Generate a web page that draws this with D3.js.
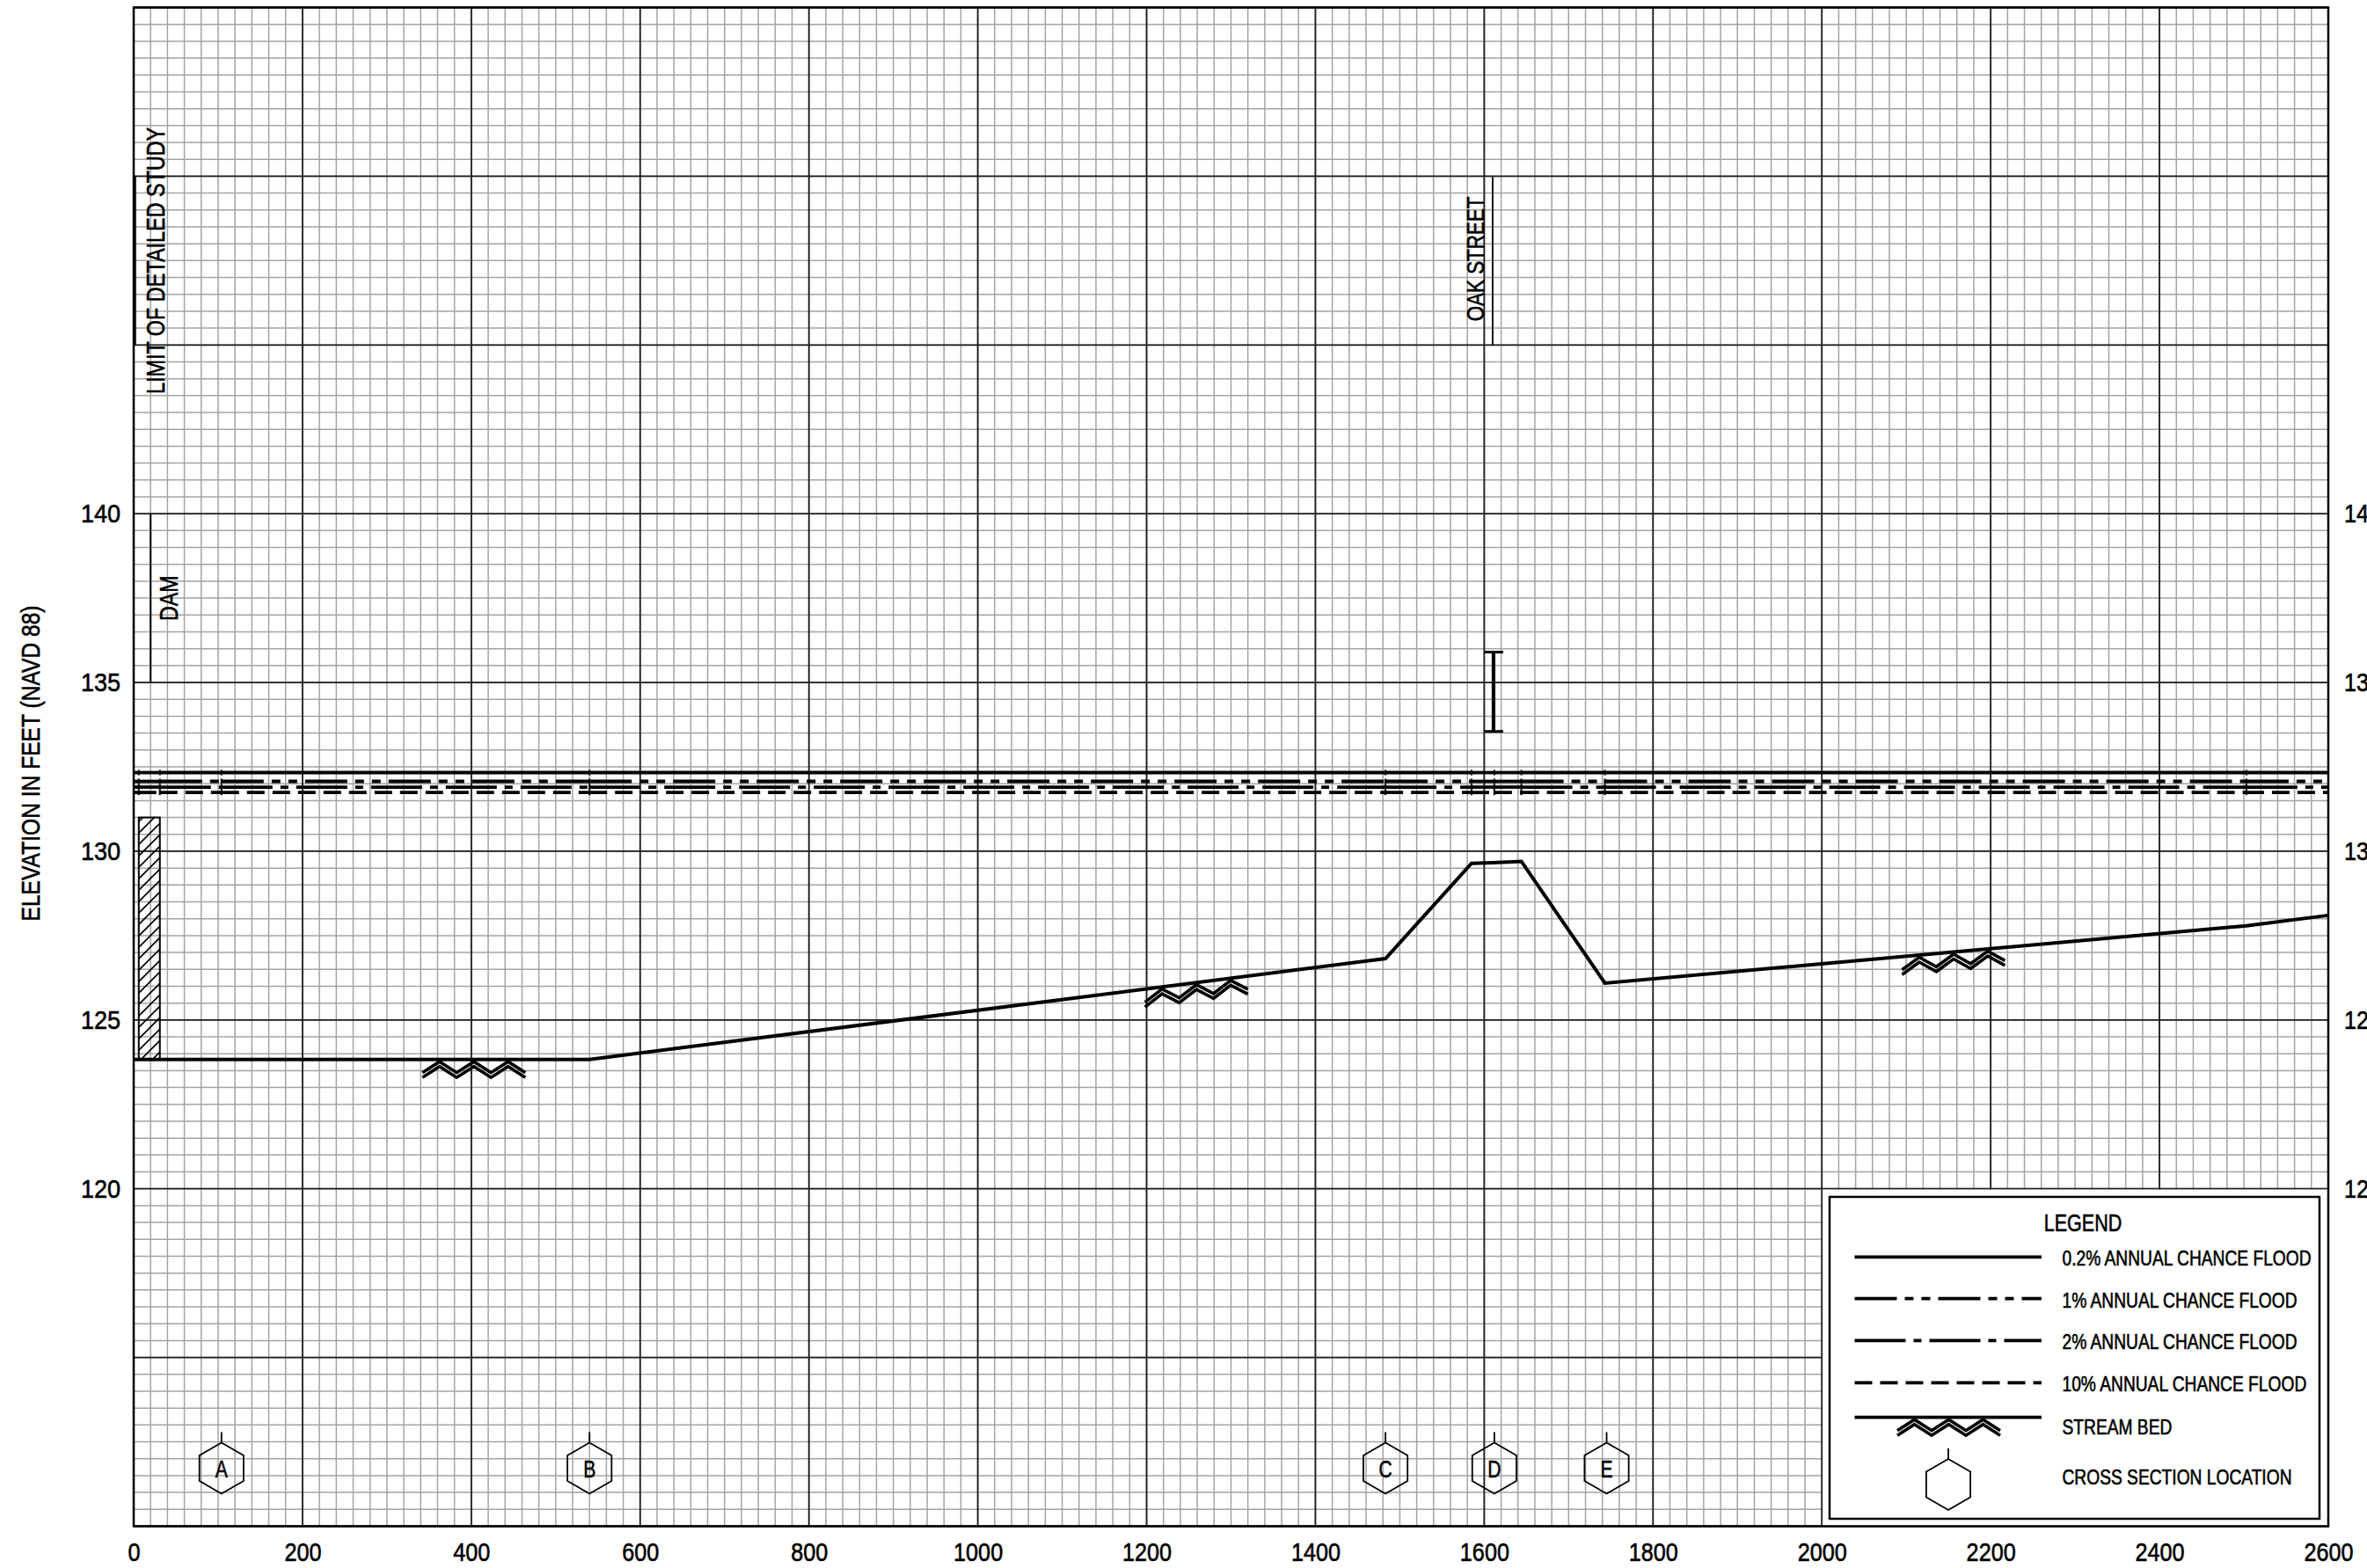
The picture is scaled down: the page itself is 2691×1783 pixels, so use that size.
<!DOCTYPE html>
<html>
<head>
<meta charset="utf-8">
<script src="https://cdn.jsdelivr.net/npm/d3@7"></script>
<style>
  body { margin: 0; background: #fff; }
  svg text { font-family: "Liberation Sans", Arial, sans-serif; fill: #000; stroke: #000; stroke-width: 0.6px; }
</style>
</head>
<body>
<div id="plot"></div>
<script>
const width = 2691;
const height = 1783;

// ----- DATA -----
const xTicks = [0, 200, 400, 600, 800, 1000, 1200, 1400, 1600, 1800, 2000, 2200, 2400, 2600];
const yTicks = [120, 125, 130, 135, 140];

// stream bed profile [station ft, elevation ft]
const streamBed = [
    [0, 123.83], [540, 123.83], [1483, 126.82], [1585, 129.64], [1610, 129.66],
    [1644, 129.70], [1743, 126.09], [2503, 127.79], [2600, 128.10]
];

// flood profiles are flat through the reach
const floodNames = ["0.2% ANNUAL CHANCE FLOOD", "1% ANNUAL CHANCE FLOOD", "2% ANNUAL CHANCE FLOOD", "10% ANNUAL CHANCE FLOOD"];
const floodElev = [132.33, 132.07, 131.90, 131.74];
const floodStations = [0, 6, 31, 104, 540, 1483, 1585, 1612, 1644, 1743, 2503, 2600];

const xsLetters = ["A", "B", "C", "D", "E"];
const xsStations = [104, 540, 1483, 1612, 1745];

const bedSymbolStations = [403, 1259, 2156];

const damFaces = [6, 31];
const damTop = 131.0;
const damLabelLine = [20, 135, 140];      // station, from, to
const limitLine = [0, 145, 150];
const oakLine = [1610, 145, 150];
const bridgeDeck = [1611, 133.55, 135.9]; // station, low chord, top of road

// ----- LAYOUT -----
const pLeft = 152, pRight = 2647, pTop = 8.5, pBottom = 1735.5;

const svg = d3.select("#plot").append("svg")
    .attr("width", width)
    .attr("height", height)
    .style("display", "block")
    .style("background", "#fff");

const x = d3.scaleLinear().domain([0, 2600]).range([pLeft, pRight]);
const y = d3.scaleLinear().domain([110, 155]).range([pBottom, pTop]);
const bedAt = d3.scaleLinear().domain(streamBed.map(d => d[0])).range(streamBed.map(d => d[1]));

const dashes = [null, "48,9,10,9,10,9", "58,9,9,9", "20,9"];

// no narrow font installed: squeeze each label to a condensed width
function condense(sel, f) {
    sel.each(function () {
        const w = this.getComputedTextLength();
        d3.select(this).attr("textLength", w * f).attr("lengthAdjust", "spacingAndGlyphs");
    });
}

// hatch for the dam
const defs = svg.append("defs");
defs.append("pattern")
    .attr("id", "hatch")
    .attr("patternUnits", "userSpaceOnUse")
    .attr("width", 13).attr("height", 13)
    .append("path")
    .attr("d", "M0,13 L13,0 M-2,2 L2,-2 M11,15 L15,11")
    .attr("stroke", "#000").attr("stroke-width", 1.6);

// ----- GRID -----
const grid = svg.append("g");
grid.selectAll(".vmin").data(d3.range(0, 2601, 20)).enter().append("line")
    .attr("x1", d => x(d)).attr("x2", d => x(d)).attr("y1", pTop).attr("y2", pBottom)
    .attr("stroke", "#a3a3a3").attr("stroke-width", 1.5);
grid.selectAll(".hmin").data(d3.range(110, 155.01, 0.5)).enter().append("line")
    .attr("y1", d => y(d)).attr("y2", d => y(d)).attr("x1", pLeft).attr("x2", pRight)
    .attr("stroke", "#a3a3a3").attr("stroke-width", 1.5);
grid.selectAll(".vmaj").data(d3.range(0, 2601, 200)).enter().append("line")
    .attr("x1", d => x(d)).attr("x2", d => x(d)).attr("y1", pTop).attr("y2", pBottom)
    .attr("stroke", "#1e1e1e").attr("stroke-width", 1.8);
grid.selectAll(".hmaj").data(d3.range(110, 155.01, 5)).enter().append("line")
    .attr("y1", d => y(d)).attr("y2", d => y(d)).attr("x1", pLeft).attr("x2", pRight)
    .attr("stroke", "#1e1e1e").attr("stroke-width", 1.8);

// legend block blanks out its grid cells
svg.append("rect")
    .attr("x", x(2000) + 1).attr("y", y(120) + 1)
    .attr("width", pRight - x(2000) - 1).attr("height", pBottom - y(120) - 1)
    .attr("fill", "#fff");

svg.append("rect")
    .attr("x", pLeft).attr("y", pTop).attr("width", pRight - pLeft).attr("height", pBottom - pTop)
    .attr("fill", "none").attr("stroke", "#000").attr("stroke-width", 2.5);

// ----- AXES -----
const fs = 30;
const xAxis = svg.append("g")
    .attr("transform", "translate(0," + pBottom + ")")
    .call(d3.axisBottom(x).tickValues(xTicks).tickSize(0).tickPadding(18).tickFormat(d3.format("d")));
const yAxisL = svg.append("g")
    .attr("transform", "translate(" + pLeft + ",0)")
    .call(d3.axisLeft(y).tickValues(yTicks).tickSize(0).tickPadding(15));
const yAxisR = svg.append("g")
    .attr("transform", "translate(" + pRight + ",0)")
    .call(d3.axisRight(y).tickValues(yTicks).tickSize(0).tickPadding(18));
[xAxis, yAxisL, yAxisR].forEach(a => {
    a.select(".domain").remove();
    a.attr("font-family", null).attr("font-size", null);
    a.selectAll("text").style("font-size", fs + "px");
});
xAxis.selectAll("text").call(condense, 0.84);
yAxisL.selectAll("text").call(condense, 0.9);
yAxisR.selectAll("text").call(condense, 0.84);

svg.append("text")
    .attr("transform", "translate(45,868) rotate(-90)")
    .attr("text-anchor", "middle")
    .style("font-size", "30px")
    .text("ELEVATION IN FEET (NAVD 88)")
    .call(condense, 0.82);

// ----- FLOOD PROFILES -----
const line = d3.line().x(d => x(d[0])).y(d => y(d[1]));
const floods = svg.append("g");
floodElev.forEach((e, i) => {
    const pts = floodStations.map(s => [s, e]);
    for (let k = 0; k < pts.length - 1; k++) {
        floods.append("path")
            .attr("d", line([pts[k], pts[k + 1]]))
            .attr("fill", "none").attr("stroke", "#000").attr("stroke-width", 3.8)
            .attr("stroke-dasharray", dashes[i]);
    }
    floodStations.slice(1, -1).forEach(s => {
        floods.append("line")
            .attr("x1", x(s)).attr("x2", x(s)).attr("y1", y(e) - 3).attr("y2", y(e) + 3)
            .attr("stroke", "#000").attr("stroke-width", 2.2);
    });
});

// ----- STREAM BED -----
svg.append("path")
    .attr("d", line(streamBed))
    .attr("fill", "none").attr("stroke", "#000").attr("stroke-width", 4)
    .attr("stroke-linejoin", "miter");

function bedSymbol(g, cx, lineY) {
    const w = 117, n = 3;
    [0, 5.5].forEach(off => {
        const pts = d3.range(0, 2 * n + 1).map(k => {
            const px = cx - w / 2 + k * w / (2 * n);
            return [px, lineY(px) + (k % 2 ? 2.5 : 15) + off];
        });
        g.append("path").attr("d", d3.line()(pts))
            .attr("fill", "none").attr("stroke", "#000").attr("stroke-width", 3.6);
    });
}
const bedG = svg.append("g");
bedSymbolStations.forEach(s => bedSymbol(bedG, x(s), px => y(bedAt(x.invert(px)))));

// ----- DAM -----
svg.append("rect")
    .attr("x", x(damFaces[0])).attr("y", y(damTop))
    .attr("width", x(damFaces[1]) - x(damFaces[0])).attr("height", y(streamBed[0][1]) - y(damTop))
    .attr("fill", "url(#hatch)").attr("stroke", "#000").attr("stroke-width", 2);
svg.append("line")
    .attr("x1", x(damLabelLine[0])).attr("x2", x(damLabelLine[0]))
    .attr("y1", y(damLabelLine[1])).attr("y2", y(damLabelLine[2]))
    .attr("stroke", "#111").attr("stroke-width", 2.2);
svg.append("text")
    .attr("transform", "translate(" + (x(damLabelLine[0]) + 31) + "," + y(137.5) + ") rotate(-90)")
    .attr("text-anchor", "middle").style("font-size", "29px").text("DAM")
    .call(condense, 0.8);

// ----- LIMIT OF DETAILED STUDY -----
svg.append("line")
    .attr("x1", x(limitLine[0]) + 1).attr("x2", x(limitLine[0]) + 1)
    .attr("y1", y(limitLine[1])).attr("y2", y(limitLine[2]))
    .attr("stroke", "#000").attr("stroke-width", 3.5);
svg.append("text")
    .attr("transform", "translate(" + (x(limitLine[0]) + 35) + "," + y(147.5) + ") rotate(-90)")
    .attr("text-anchor", "middle").style("font-size", "30px").text("LIMIT OF DETAILED STUDY")
    .call(condense, 0.78);

// ----- OAK STREET -----
svg.append("line")
    .attr("x1", x(oakLine[0])).attr("x2", x(oakLine[0]))
    .attr("y1", y(oakLine[1])).attr("y2", y(oakLine[2]))
    .attr("stroke", "#000").attr("stroke-width", 1.8);
svg.append("text")
    .attr("transform", "translate(" + (x(oakLine[0]) - 10) + "," + y(147.55) + ") rotate(-90)")
    .attr("text-anchor", "middle").style("font-size", "28px").text("OAK STREET")
    .call(condense, 0.8);

const bx = x(bridgeDeck[0]);
svg.append("line")
    .attr("x1", bx).attr("x2", bx).attr("y1", y(bridgeDeck[2])).attr("y2", y(bridgeDeck[1]))
    .attr("stroke", "#000").attr("stroke-width", 4.2);
[bridgeDeck[1], bridgeDeck[2]].forEach(e => {
    svg.append("line")
        .attr("x1", bx - 10).attr("x2", bx + 11).attr("y1", y(e)).attr("y2", y(e))
        .attr("stroke", "#000").attr("stroke-width", 3);
});

// ----- CROSS SECTIONS -----
const hexR = 29;
const hexPts = d3.range(6).map(k => {
    const a = (-90 + 60 * k) * Math.PI / 180;
    return [hexR * Math.cos(a), hexR * Math.sin(a)];
});
function hexagon(g, cx, cy, label) {
    const h = g.append("g").attr("transform", "translate(" + cx + "," + cy + ")");
    h.append("path").attr("d", d3.line()(hexPts) + "Z")
        .attr("fill", "none").attr("stroke", "#000").attr("stroke-width", 1.8);
    h.append("line").attr("x1", 0).attr("x2", 0).attr("y1", -hexR).attr("y2", -hexR - 12)
        .attr("stroke", "#000").attr("stroke-width", 1.8);
    if (label) {
        h.append("text").attr("text-anchor", "middle").attr("y", 10)
            .style("font-size", "27px").text(label)
            .call(condense, 0.78);
    }
}
const xsG = svg.append("g");
xsStations.forEach((s, i) => hexagon(xsG, x(s), 1669.5, xsLetters[i]));

// ----- LEGEND -----
const lg = svg.append("g");
lg.append("rect")
    .attr("x", 2080).attr("y", 1361).attr("width", 557).attr("height", 366)
    .attr("fill", "#fff").attr("stroke", "#000").attr("stroke-width", 2.5);
lg.append("text").attr("x", 2368).attr("y", 1400).attr("text-anchor", "middle")
    .style("font-size", "28px").text("LEGEND")
    .call(condense, 0.77);

const rowLineY = [1429.3, 1476.7, 1524.3, 1572.3];
const rowTextY = [1439, 1486.7, 1534, 1582];
floodNames.forEach((n, i) => {
    lg.append("line")
        .attr("x1", 2108.5).attr("x2", 2321).attr("y1", rowLineY[i]).attr("y2", rowLineY[i])
        .attr("stroke", "#000").attr("stroke-width", 3.8)
        .attr("stroke-dasharray", dashes[i]);
    lg.append("text").attr("x", 2344.5).attr("y", rowTextY[i])
        .style("font-size", "24px").text(n)
        .call(condense, 0.8);
});
lg.append("line")
    .attr("x1", 2108.5).attr("x2", 2321).attr("y1", 1611.7).attr("y2", 1611.7)
    .attr("stroke", "#000").attr("stroke-width", 3.8);
bedSymbol(lg, 2215.5, () => 1611.7);
lg.append("text").attr("x", 2344.5).attr("y", 1631).style("font-size", "24px").text("STREAM BED")
    .call(condense, 0.8);

hexagon(lg, 2215, 1688, null);
lg.append("text").attr("x", 2344.5).attr("y", 1687.7).style("font-size", "24px").text("CROSS SECTION LOCATION")
    .call(condense, 0.8);
</script>
</body>
</html>
